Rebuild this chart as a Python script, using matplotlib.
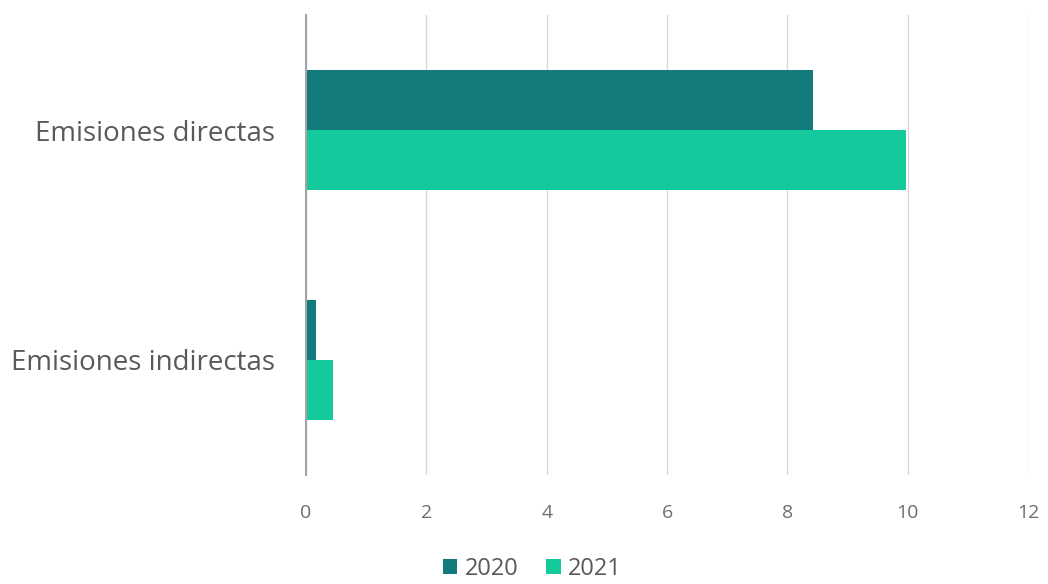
import numpy as np
import matplotlib.pyplot as plt

plt.rcParams['font.family'] = ['Open Sans', 'DejaVu Sans']

categories = ['Emisiones directas', 'Emisiones indirectas']
series = ['2020', '2021']
values_2020 = [8.43, 0.17]
values_2021 = [9.97, 0.45]
colors = ['#137b7b', '#14c99b']
text_color = '#595959'

fig = plt.figure(figsize=(10.48, 5.84), dpi=100)
ax = fig.add_axes([0.292, 0.187, 0.689, 0.787])

y = np.arange(len(categories))
h = 0.26
ax.barh(y - h / 2, values_2020, height=h, color=colors[0], label=series[0], zorder=3)
ax.barh(y + h / 2, values_2021, height=h, color=colors[1], label=series[1], zorder=3)

ax.set_ylim(1.5, -0.5)
ax.set_xlim(0, 12)
ax.set_xticks(range(0, 13, 2))
ax.set_yticks(y)
ax.set_yticklabels(categories)
ax.tick_params(axis='y', length=0, pad=22, labelsize=20, labelcolor=text_color)
ax.tick_params(axis='x', length=0, pad=21, labelsize=14, labelcolor='#6e6e6e')
ax.grid(axis='x', color='#d9d9d9', linewidth=1, zorder=0)
for s in ['top', 'right', 'bottom']:
    ax.spines[s].set_visible(False)
ax.spines['left'].set_color('#a6a6a6')
ax.spines['left'].set_linewidth(1.5)
ax.spines['left'].set_zorder(4)

fig.legend(loc='center', bbox_to_anchor=(0.508, 0.026), ncol=2, frameon=False,
           fontsize=17, labelcolor=text_color, handlelength=0.6, handleheight=0.6,
           handletextpad=0.3, columnspacing=1.2, borderaxespad=0)

fig.savefig('out.png', dpi=100)
